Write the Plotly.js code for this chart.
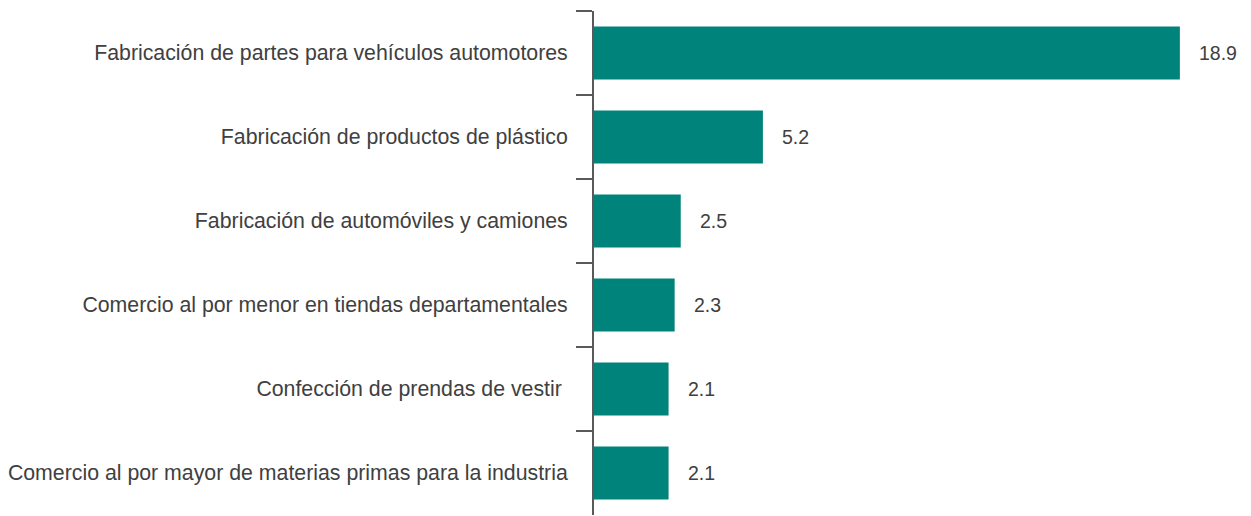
<!DOCTYPE html>
<html>
<head>
<meta charset="utf-8">
<script src="https://cdn.plot.ly/plotly-3.0.1.min.js"></script>
<style>
  html, body { margin: 0; padding: 0; background: #ffffff; }
  #chart { width: 1251px; height: 516px; }
</style>
</head>
<body>
<div id="chart"></div>
<script>
const categories = [
  "Fabricación de partes para vehículos automotores",
  "Fabricación de productos de plástico",
  "Fabricación de automóviles y camiones",
  "Comercio al por menor en tiendas departamentales",
  "Confección de prendas de vestir ",
  "Comercio al por mayor de materias primas para la industria"
];
const values = [18.9, 5.2, 2.5, 2.3, 2.1, 2.1];
const valueLabels = ["18.9", "5.2", "2.5", "2.3", "2.1", "2.1"];

const AXIS_START = -0.35;
const AXIS_END = 20.58;
const BAR_COLOR = "#00837A";
const TEXT_COLOR = "#404040";
const AXIS_COLOR = "#595959";
const FONT = "Liberation Sans, Arial, sans-serif";

const trace = {
  type: "bar",
  orientation: "h",
  y: categories,
  x: values.map(v => v - AXIS_START),
  base: AXIS_START,
  marker: { color: BAR_COLOR },
  width: 0.63,
  hoverinfo: "skip"
};

const annotations = values.map((v, i) => ({
  x: v,
  y: categories[i],
  xref: "x",
  yref: "y",
  text: valueLabels[i],
  showarrow: false,
  xanchor: "left",
  yanchor: "middle",
  xshift: 17,
  font: { family: FONT, size: 19.5, color: TEXT_COLOR }
}));

const layout = {
  width: 1251,
  height: 516,
  margin: { l: 594, r: 20, t: 11, b: 1, pad: 0 },
  paper_bgcolor: "#ffffff",
  plot_bgcolor: "#ffffff",
  showlegend: false,
  xaxis: {
    range: [AXIS_START, AXIS_END],
    visible: false,
    fixedrange: true
  },
  yaxis: {
    type: "category",
    autorange: "reversed",
    showline: true,
    linecolor: AXIS_COLOR,
    linewidth: 2,
    ticks: "outside",
    tickson: "boundaries",
    ticklen: 16,
    tickwidth: 2,
    tickcolor: AXIS_COLOR,
    showgrid: false,
    zeroline: false,
    ticklabelstandoff: 20,
    tickfont: { family: FONT, size: 21.3, color: TEXT_COLOR },
    fixedrange: true
  },
  annotations: annotations
};

Plotly.newPlot("chart", [trace], layout, { displayModeBar: false, staticPlot: true });
</script>
</body>
</html>
